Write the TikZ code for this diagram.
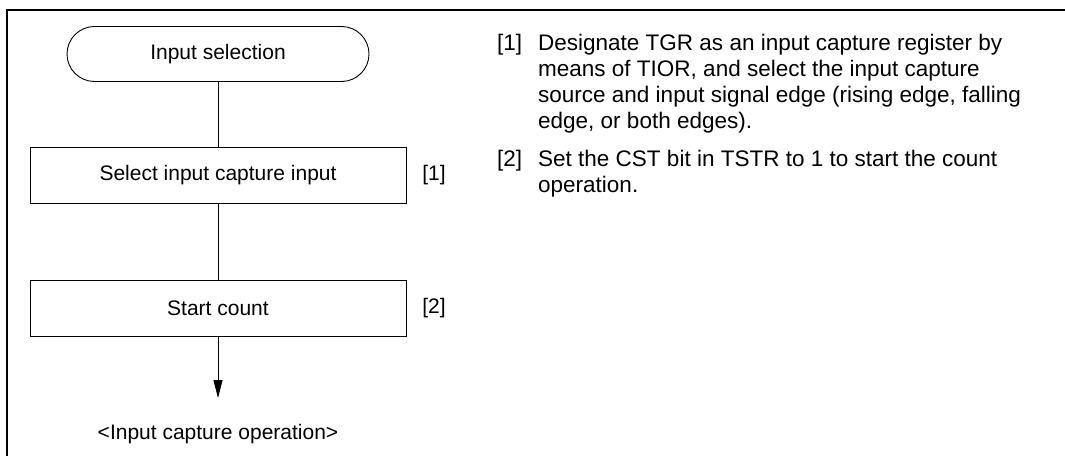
\documentclass[tikz,border=0pt]{standalone}
\usepackage{fontspec}
\setmainfont{Liberation Sans}
\usetikzlibrary{arrows.meta}
\begin{document}
\begin{tikzpicture}[x=1pt,y=-1pt,
  flow/.style={draw, line width=0.9pt},
  term/.style={flow, rounded corners=27.5pt, minimum width=302pt, minimum height=55pt, inner sep=0pt, font=\fontsize{21}{26}\selectfont},
  procbox/.style={flow, minimum width=376pt, minimum height=56pt, inner sep=0pt, font=\fontsize{21}{26}\selectfont},
  lbl/.style={inner sep=0pt, font=\fontsize{21}{26}\selectfont},
  txt/.style={inner sep=0pt, anchor=base west, font=\fontsize{22.5}{26}\selectfont},
  conn/.style={line width=0.9pt},
  frame/.style={line width=2.5pt}]
\useasboundingbox (0,0) rectangle (1065,455);
\coordinate (fbl) at (7,456);
\coordinate (ftl) at (7,10);
\coordinate (ftr) at (1066,10);
\draw[frame] (fbl) -- (ftl) -- (ftr);

\node[term] (start) at (218,54) {Input selection};
\node[procbox] (sel) at (218,175) {Select input capture input};
\node[procbox] (cnt) at (218,308) {Start count};
\node[lbl] (l1) at (434,175) {[1]};
\node[lbl] (l2) at (434,308) {[2]};
\coordinate (tip) at (218,398);
\node[lbl] (endtxt) at (218,434) {<Input capture operation>};

\draw[conn] (start) -- (sel);
\draw[conn] (sel) -- (cnt);
\draw[conn, -{Triangle[length=18pt,width=9pt]}] (cnt) -- (tip);

\node[txt] (n1) at (497,50) {[1]};
\node[txt] (d1a) at (538,50) {Designate TGR as an input capture register by};
\node[txt] (d1b) at (538,76) {means of TIOR, and select the input capture};
\node[txt] (d1c) at (538,102) {source and input signal edge (rising edge, falling};
\node[txt] (d1d) at (538,128) {edge, or both edges).};
\node[txt] (n2) at (497,166) {[2]};
\node[txt] (d2a) at (538,166) {Set the CST bit in TSTR to 1 to start the count};
\node[txt] (d2b) at (538,192) {operation.};
\end{tikzpicture}
\end{document}
